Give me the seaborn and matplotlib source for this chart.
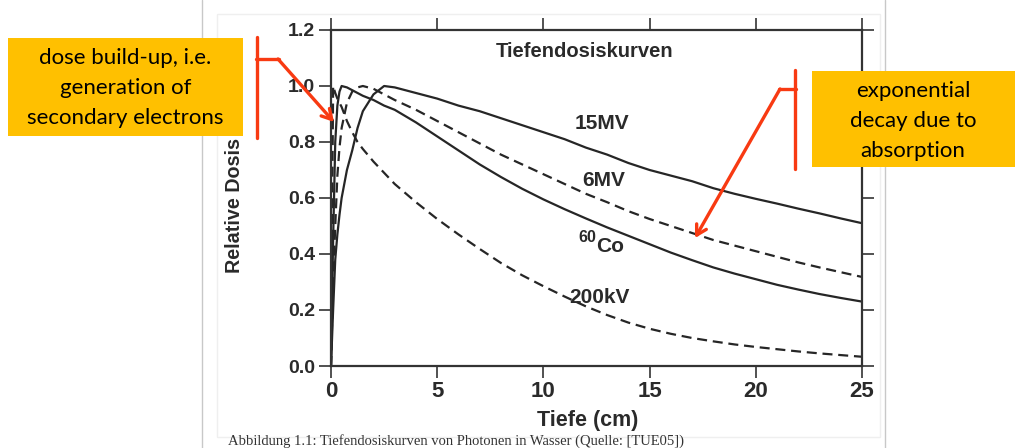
import matplotlib
matplotlib.use("Agg")
import matplotlib.pyplot as plt
from matplotlib.patches import Rectangle, FancyArrowPatch
from matplotlib.lines import Line2D
import seaborn as sns
import pandas as pd

# depth-dose data (depth in cm, dose relative to maximum)
depth = [0, 0.1, 0.2, 0.3, 0.4, 0.5, 0.75, 1.0, 1.25, 1.5, 2.0, 2.5, 3,
         4, 5, 6, 7, 8, 9, 10, 11, 12, 13, 14, 15, 16, 17, 18, 19, 20,
         21, 22, 23, 24, 25]
dose_15mv = [0, 0.2, 0.38, 0.47, 0.54, 0.60, 0.70, 0.77, 0.85, 0.91, 0.97,
             1.0, 0.995, 0.975, 0.955, 0.93, 0.91, 0.885, 0.86, 0.835, 0.81,
             0.78, 0.755, 0.725, 0.70, 0.68, 0.66, 0.635, 0.615, 0.597, 0.58,
             0.562, 0.545, 0.527, 0.51]
dose_6mv = [0, 0.3, 0.5, 0.68, 0.78, 0.85, 0.94, 0.98, 0.995, 1.0, 0.99,
            0.97, 0.95, 0.915, 0.875, 0.835, 0.795, 0.755, 0.72, 0.685, 0.65,
            0.615, 0.585, 0.553, 0.525, 0.50, 0.475, 0.45, 0.43, 0.41, 0.39,
            0.37, 0.352, 0.335, 0.318]
dose_co60 = [0, 0.45, 0.8, 0.93, 0.98, 1.0, 0.995, 0.985, 0.975, 0.965, 0.95,
             0.93, 0.915, 0.87, 0.82, 0.77, 0.72, 0.675, 0.633, 0.595, 0.56,
             0.527, 0.495, 0.465, 0.435, 0.405, 0.378, 0.352, 0.33, 0.31,
             0.29, 0.273, 0.257, 0.243, 0.23]
dose_200kv = [0, 1.0, 0.975, 0.955, 0.94, 0.925, 0.875, 0.835, 0.80, 0.775,
              0.73, 0.69, 0.65, 0.585, 0.525, 0.47, 0.418, 0.368, 0.324, 0.285,
              0.248, 0.213, 0.182, 0.155, 0.133, 0.115, 0.1, 0.088, 0.077,
              0.068, 0.06, 0.052, 0.045, 0.039, 0.033]
beams = ["15MV", "6MV", "60Co", "200kV"]

x_ticks = [0, 5, 10, 15, 20, 25]
y_ticks = [0.0, 0.2, 0.4, 0.6, 0.8, 1.0, 1.2]

df = pd.concat([
    pd.DataFrame({"depth": depth, "dose": d, "beam": b})
    for b, d in zip(beams, [dose_15mv, dose_6mv, dose_co60, dose_200kv])
], ignore_index=True)

sns.set_style("ticks")
plt.rcParams["font.family"] = ["Liberation Sans", "DejaVu Sans"]
BOLD = dict(weight="bold")

W, H = 1017, 448
fig = plt.figure(figsize=(W / 100, H / 100), dpi=100, facecolor="white")


def fp(x, y):
    """pixel position (from top-left) -> figure fraction"""
    return x / W, 1 - y / H


# slide frame and picture border
fig.add_artist(Line2D([202 / W, 202 / W], [0, 1], color="#c8c8c8", lw=1.0))
fig.add_artist(Line2D([885 / W, 885 / W], [0, 1], color="#c8c8c8", lw=1.0))
fig.add_artist(Rectangle(fp(217, 437), (880 - 217) / W, (437 - 14) / H,
                         transform=fig.transFigure, facecolor="white",
                         edgecolor="#efefef", lw=1.0, zorder=0))

ax = fig.add_axes([331 / W, 1 - 366 / H, (862 - 331) / W, (366 - 30) / H])
ax.set_facecolor("none")

ink = "#262626"
sns.lineplot(data=df, x="depth", y="dose", hue="beam", style="beam",
             palette={b: ink for b in beams},
             dashes={"15MV": "", "6MV": (4.5, 2.6), "60Co": "", "200kV": (4.5, 2.6)},
             linewidth=1.6, estimator=None, sort=False, legend=False, ax=ax)

ax.set_xlim(0, 25)
ax.set_ylim(0, 1.2)
ax.set_xticks(x_ticks)
ax.set_yticks(y_ticks)
ax.set_xticklabels([str(t) for t in x_ticks], fontsize=16, **BOLD)
ax.set_yticklabels([f"{t:.1f}" for t in y_ticks], fontsize=14, **BOLD)
for s in ax.spines.values():
    s.set_visible(True)
    s.set_color("#333333")
    s.set_linewidth(1.6)
ax.tick_params(axis="both", which="major", direction="out", length=8.5,
               width=1.2, color="#333333", top=True, right=True,
               labeltop=False, labelright=False, labelcolor="#2a2a2a")
ax.tick_params(axis="x", pad=2)
ax.tick_params(axis="y", pad=3)

ax.set_xlabel("Tiefe (cm)", fontsize=15.5, color="#2a2a2a", **BOLD)
ax.set_ylabel("Relative Dosis", fontsize=14.2, color="#2a2a2a", **BOLD)
ax.xaxis.label.set_va("center")
ax.yaxis.label.set_va("center")
ax.xaxis.set_label_coords(0.484, -0.161)
ax.yaxis.set_label_coords(-0.181, 0.478)

lbl = dict(fontsize=15, color="#2a2a2a", ha="center", va="center", **BOLD)
ax.text(11.95, 1.123, "Tiefendosiskurven", **{**lbl, "fontsize": 14.5})
ax.text(12.76, 0.866, "15MV", **lbl)
ax.text(12.85, 0.664, "6MV", **lbl)
ax.text(12.05, 0.459, "60", **{**lbl, "fontsize": 11.5})
ax.text(13.16, 0.427, "Co", **lbl)
ax.text(12.64, 0.245, "200kV", **lbl)

# annotation boxes
orange = "#FFC000"
box_font = dict(family=["Lato", "Open Sans", "DejaVu Sans"], weight="normal")
fig.add_artist(Rectangle(fp(8, 136), (243 - 8) / W, (136 - 38) / H,
                         transform=fig.transFigure, facecolor=orange,
                         edgecolor="none", zorder=3))
for yy, t in [(58, "dose build-up, i.e."), (88, "generation of"),
              (118, "secondary electrons")]:
    fig.text(*fp(125.5, yy), t, fontsize=16, color="black",
             ha="center", va="center", zorder=4, **box_font)

fig.add_artist(Rectangle(fp(812, 167), (1015 - 812) / W, (167 - 71) / H,
                         transform=fig.transFigure, facecolor=orange,
                         edgecolor="none", zorder=3))
for yy, t in [(91, "exponential"), (121, "decay due to"), (151, "absorption")]:
    fig.text(*fp(913, yy), t, fontsize=16, color="black",
             ha="center", va="center", zorder=4, **box_font)

# red brackets with arrows
red = "#F83A12"
fig.add_artist(Line2D(*zip(fp(257, 37), fp(257, 138)), color=red, lw=2.4,
                      zorder=5))
fig.add_artist(Line2D(*zip(fp(256, 59), fp(279, 59)), color=red, lw=2.4,
                      zorder=5))
fig.add_artist(FancyArrowPatch(fp(278, 59), fp(334, 122),
                               transform=fig.transFigure,
                               arrowstyle="->,head_length=7,head_width=4",
                               color=red, lw=2.4, shrinkA=0, shrinkB=0,
                               zorder=5))
fig.add_artist(Line2D(*zip(fp(795, 70), fp(795, 169)), color=red, lw=2.4,
                      zorder=5))
fig.add_artist(Line2D(*zip(fp(796, 89), fp(779, 89)), color=red, lw=2.4,
                      zorder=5))
fig.add_artist(FancyArrowPatch(fp(780, 89), fp(695, 238),
                               transform=fig.transFigure,
                               arrowstyle="->,head_length=7,head_width=4",
                               color=red, lw=2.4, shrinkA=0, shrinkB=0,
                               zorder=5))

# figure caption below the picture
fig.text(*fp(228, 444.5),
         "Abbildung 1.1: Tiefendosiskurven von Photonen in Wasser (Quelle: [TUE05])",
         fontsize=10.5, family=["Liberation Serif", "DejaVu Serif"],
         weight="normal", color="#333333", ha="left", va="baseline")

fig.savefig("out.png", dpi=100, facecolor="white")
